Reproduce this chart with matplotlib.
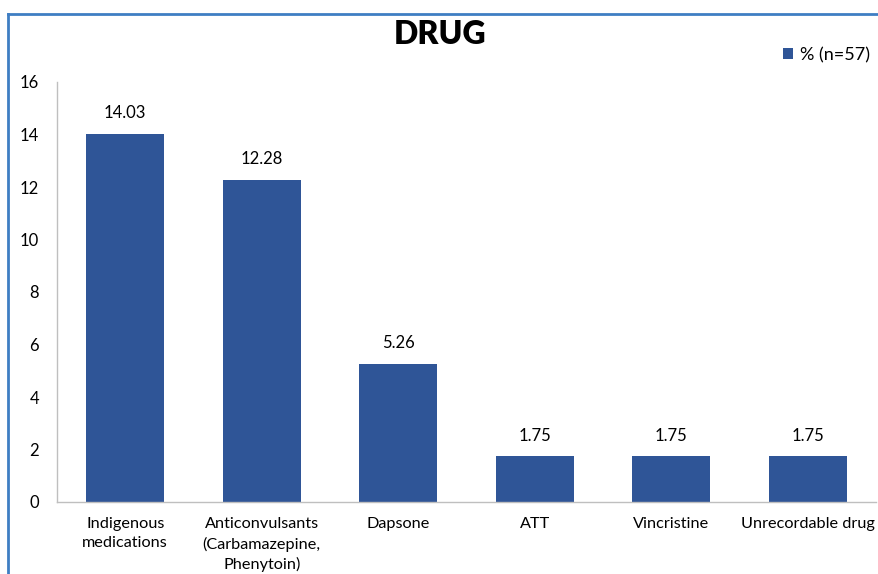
import matplotlib
matplotlib.use("Agg")
import matplotlib.pyplot as plt
from matplotlib.lines import Line2D

categories = ["Indigenous\nmedications", "Anticonvulsants\n(Carbamazepine,\nPhenytoin)",
              "Dapsone", "ATT", "Vincristine", "Unrecordable drug"]
values = [14.03, 12.28, 5.26, 1.75, 1.75, 1.75]
yticks = [0, 2, 4, 6, 8, 10, 12, 14, 16]
series_name = "% (n=57)"
title = "DRUG"

plt.rcParams["font.family"] = ["Lato", "DejaVu Sans"]

bar_color = "#2F5597"
W, H = 879, 574
fig = plt.figure(figsize=(W / 100, H / 100), dpi=100)
ax = fig.add_axes([57 / W, 72 / H, (876 - 57) / W, (502 - 82) / H])

x = list(range(len(categories)))
ax.bar(x, values, width=0.57, color=bar_color, label=series_name, zorder=2)
for xi, v in zip(x, values):
    ax.annotate(f"{v:.2f}", (xi, v), xytext=(0, 9), textcoords="offset points",
                ha="center", va="bottom", fontsize=12, color="#000000")

ax.set_xlim(-0.5, len(categories) - 0.5)
ax.set_ylim(0, 16)
ax.set_yticks(yticks)
ax.set_yticklabels([str(t) for t in yticks], fontsize=12)
ax.set_xticks(x)
ax.set_xticklabels(categories, fontsize=11.7, linespacing=1.45)
ax.tick_params(axis="y", length=0, pad=13)
ax.tick_params(axis="x", length=0, pad=11)
for side in ("top", "right"):
    ax.spines[side].set_visible(False)
for side in ("left", "bottom"):
    ax.spines[side].set_color("#BFBFBF")
    ax.spines[side].set_linewidth(1.0)
ax.set_facecolor("none")

fig.text(440 / W, 1 - 35 / H, title, ha="center", va="center",
         fontsize=23, fontweight="heavy", color="#000000")

ax.legend(loc="center right", bbox_to_anchor=(877 / W, 1 - 55 / H),
          bbox_transform=fig.transFigure, frameon=False, fontsize=13,
          handlelength=0.55, handleheight=0.55, handletextpad=0.4, borderaxespad=0)

# outer chart frame (only top and left edges fall inside the canvas)
frame_color = "#3F7EC3"
fig.add_artist(Line2D([8 / W, 8 / W], [0, 1 - 14 / H], transform=fig.transFigure,
                      color=frame_color, linewidth=2))
fig.add_artist(Line2D([8 / W, 1], [1 - 14 / H, 1 - 14 / H], transform=fig.transFigure,
                      color=frame_color, linewidth=2))

fig.savefig("out.png", dpi=100)
